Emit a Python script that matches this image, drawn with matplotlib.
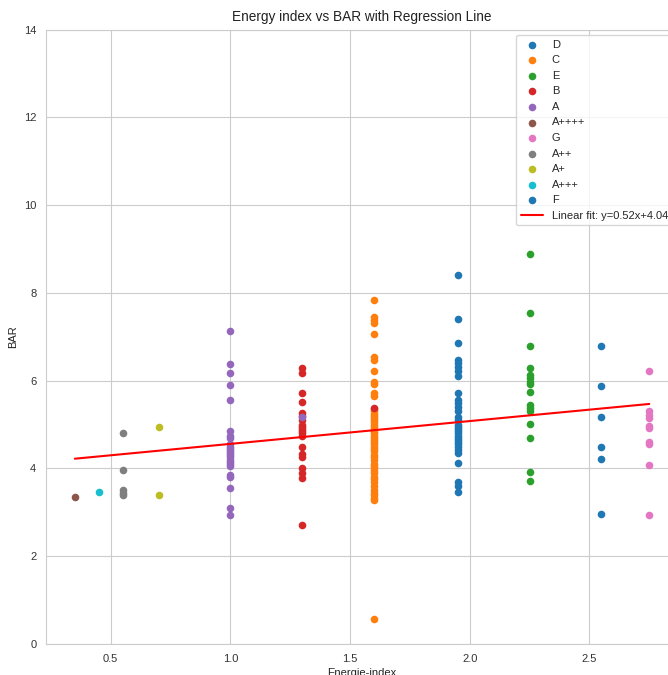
import matplotlib
matplotlib.use('Agg')
from matplotlib import pyplot as plt
import seaborn as sns
import numpy as np

# energy-index position of each label and the BAR values
labels = ['D', 'C', 'E', 'B', 'A', 'A++++', 'G', 'A++', 'A+', 'A+++', 'F']
label_x = [1.95, 1.6, 2.25, 1.3, 1.0, 0.35, 2.75, 0.55, 0.7, 0.45, 2.55]

bar_d = [8.41, 7.40, 6.87, 6.48, 6.40, 6.31, 6.21, 6.10, 5.72, 5.56, 5.49, 5.41,
         5.30, 5.18, 5.10, 5.00, 4.95, 4.90, 4.85, 4.80, 4.75, 4.70, 4.65, 4.60,
         4.55, 4.50, 4.42, 4.35, 4.12, 3.68, 3.59, 3.47]
bar_c = [7.84, 7.46, 7.39, 7.31, 7.07, 6.54, 6.48, 6.22, 5.98, 5.93, 5.73, 5.64,
         5.35, 5.30, 5.25, 5.20, 5.15, 5.10, 5.05, 5.00, 4.95, 4.90, 4.85, 4.80,
         4.75, 4.70, 4.65, 4.60, 4.55, 4.50, 4.45, 4.40, 4.30, 4.25, 4.20, 4.10,
         4.05, 4.00, 3.95, 3.90, 3.80, 3.75, 3.70, 3.59, 3.51, 3.45, 3.40, 3.33,
         3.28, 0.58]
bar_e = [8.89, 7.55, 6.78, 6.30, 6.13, 6.06, 5.98, 5.92, 5.75, 5.45, 5.37, 5.32,
         5.01, 4.70, 3.91, 3.72]
bar_b = [6.30, 6.17, 5.73, 5.52, 5.26, 5.20, 5.10, 5.00, 4.95, 4.90, 4.85, 4.80,
         4.75, 4.50, 4.33, 4.27, 4.01, 3.89, 3.78, 2.71]
bar_a = [7.14, 6.38, 6.17, 5.91, 5.55, 4.86, 4.74, 4.69, 4.55, 4.50, 4.45, 4.40,
         4.35, 4.30, 4.25, 4.20, 4.15, 4.10, 4.05, 3.85, 3.80, 3.55, 3.09, 2.94]
bar_a4 = [3.36]
bar_g = [6.22, 5.32, 5.22, 5.15, 4.97, 4.92, 4.60, 4.56, 4.08, 2.95]
bar_a2 = [4.80, 3.97, 3.50, 3.45, 3.40]
bar_a1 = [4.95, 3.39]
bar_a3 = [3.46]
bar_f = [6.78, 5.88, 5.18, 4.48, 4.21, 2.97]

# two points sitting off their label's column
extra_a = (1.3, 5.17)
extra_b = (1.6, 5.38)

fit_slope, fit_intercept = 0.52, 4.04

sns.set_style('whitegrid')
plt.rcParams['font.family'] = ['Liberation Sans', 'DejaVu Sans']

values = [bar_d, bar_c, bar_e, bar_b, bar_a, bar_a4, bar_g, bar_a2, bar_a1, bar_a3, bar_f]
colors = ['#1f77b4', '#ff7f0e', '#2ca02c', '#d62728', '#9467bd', '#8c564b',
          '#e377c2', '#7f7f7f', '#bcbd22', '#17becf', '#1f77b4']

fig = plt.figure(figsize=(6.68, 6.75), dpi=100)
ax = fig.add_axes([0.069, 0.046, 0.946, 0.91])

all_x = []
for lab, xv, ys, col in zip(labels, label_x, values, colors):
    xs = [xv] * len(ys)
    ys = list(ys)
    if lab == 'A':
        xs.append(extra_a[0])
        ys.append(extra_a[1])
    if lab == 'B':
        xs.append(extra_b[0])
        ys.append(extra_b[1])
    all_x += xs
    ax.scatter(xs, ys, color=col, label=lab, s=30, linewidths=0)

xfit = np.array([min(all_x), max(all_x)])
ax.plot(xfit, fit_slope * xfit + fit_intercept, color='red', lw=1.5,
        label=f'Linear fit: y={fit_slope:.2f}x+{fit_intercept:.2f}')

ax.set_ylim(0, 14)
ax.set_yticks(np.arange(0, 15, 2))
ax.set_xticks([0.5, 1.0, 1.5, 2.0, 2.5])
ax.tick_params(labelsize=8, colors='#333333')
ax.set_title('Energy index vs BAR with Regression Line', fontsize=9.8, color='#222222')
ax.set_xlabel('Energie-index', fontsize=8, color='#222222', labelpad=3)
ax.set_ylabel('BAR', fontsize=8, color='#222222')
ax.legend(loc='upper right', fontsize=8, frameon=True)

fig.savefig('out.png', dpi=100)
